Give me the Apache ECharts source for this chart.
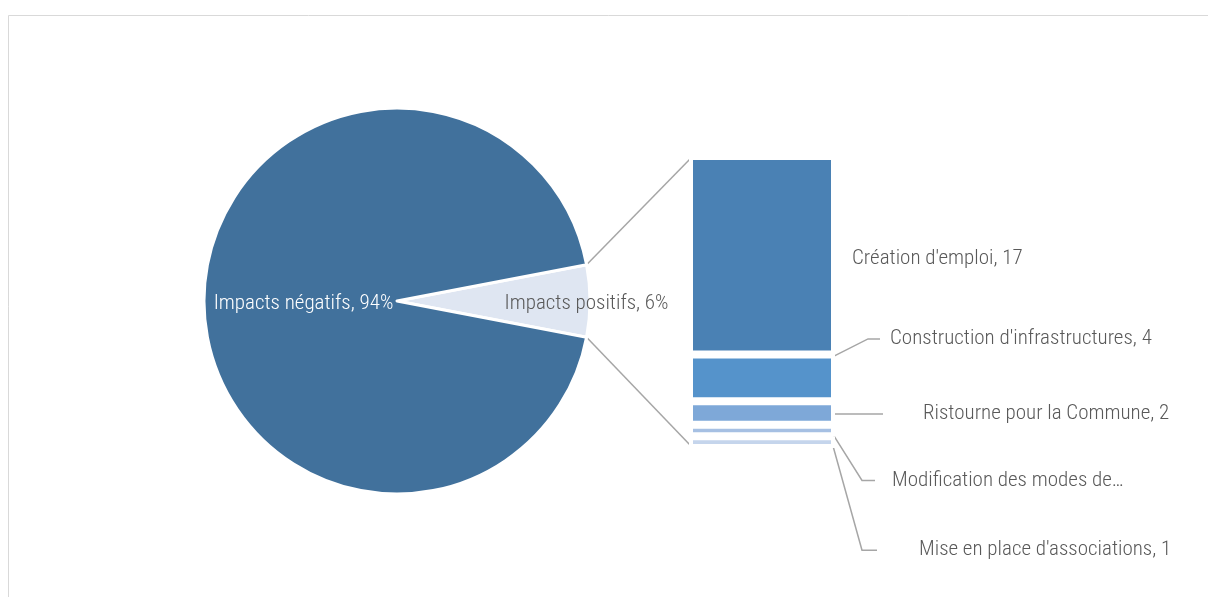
<!DOCTYPE html>
<html>
<head>
<meta charset="utf-8">
<script src="https://cdn.jsdelivr.net/npm/echarts@6/dist/echarts.min.js"></script>
<style>
	html, body { margin: 0; padding: 0; background: #fff; }
	#main { width: 1208px; height: 597px; }
</style>
</head>
<body>
<div id="main"></div>
<script>
// répartition globale des impacts (%)
var pieNames = ['Impacts positifs', 'Impacts négatifs'];
var pieValues = [6, 94];
// détail des impacts positifs, du bas vers le haut de la barre
var barNames = ["Mise en place d'associations", 'Modification des modes de vie', 'Ristourne pour la Commune', "Construction d'infrastructures", "Création d'emploi"];
var barValues = [1, 1, 2, 4, 17];
var barLabels = ["Mise en place d'associations, 1", 'Modification des modes de…', 'Ristourne pour la Commune, 2', "Construction d'infrastructures, 4", "Création d'emploi, 17"];

var FONT = '"Roboto Condensed", "Liberation Sans Narrow", sans-serif';
var FONT_SIZE = 21;
var TEXT_COLOR = '#595959';
var LINE_COLOR = '#a6a6a6';

// couleurs des segments (bas -> haut)
var barColors = ['#c5d5ec', '#a6c0e3', '#7ea8d8', '#5593cb', '#4a81b4'];
// placement des étiquettes : [dx, dy, blanc avant le texte, longueur du coude]
var labelShift = [[25, 108, 42, 15], [23, 50, 17, 13], [31, 1, 40, 0], [28, -39, 10, 12], [0, 3, 0, 0]];

const chart = echarts.init(document.getElementById('main'), null, {renderer: 'canvas'});

const total = barValues.reduce(function(a, b) { return a + b; }, 0);
const barSeries = barValues.map(function(v, i) {
	const shift = labelShift[i];
	return {
		name: barNames[i],
		type: 'bar',
		stack: 'positifs',
		barWidth: '100%',
		data: [v],
		itemStyle: {
			color: barColors[i],
			borderColor: '#fff',
			borderWidth: 4
		},
		label: {
			show: true,
			position: 'right',
			distance: 17,
			formatter: shift[2] ? '{g|}{t|' + barLabels[i] + '}' : barLabels[i],
			color: TEXT_COLOR,
			fontFamily: FONT,
			fontWeight: 300,
			fontSize: FONT_SIZE,
			rich: {
				g: { width: shift[2] },
				t: { color: TEXT_COLOR, fontFamily: FONT, fontWeight: 300, fontSize: FONT_SIZE }
			}
		},
		labelLine: {
			show: i < 4,
			length2: shift[3],
			lineStyle: { color: LINE_COLOR, width: 1.5 }
		},
		labelLayout: function(p) {
			return {
				x: p.labelRect.x + shift[0],
				y: p.labelRect.y + shift[1]
			};
		},
		emphasis: { disabled: true }
	};
});

const option = {
	animation: false,
	backgroundColor: '#fff',
	grid: { left: 689, top: 156, width: 146, height: 292 },
	xAxis: { type: 'category', data: ['Impacts positifs'], show: false },
	yAxis: { type: 'value', min: 0, max: total, show: false },
	series: [{
		type: 'pie',
		center: [397, 301],
		radius: 193,
		clockwise: true,
		startAngle: pieValues[0] / 100 * 360 / 2,
		data: pieNames.map(function(n, i) { return { name: n, value: pieValues[i] }; }),
		itemStyle: { borderColor: '#fff', borderWidth: 3 },
		color: ['#dfe6f2', '#41719c'],
		label: {
			show: true,
			position: 'inside',
			formatter: '{b}, {c}%',
			fontFamily: FONT,
			fontWeight: 300,
			fontSize: FONT_SIZE
		},
		// l'étiquette "positifs" est poussée vers le bord de la part
		labelLayout: function(p) {
			return p.dataIndex === 0 ? { dx: 45, dy: 1.5 } : { dx: 3, dy: 1.5 };
		},
		emphasis: { disabled: true },
		z: 3
	}].concat(barSeries)
};
option.series[0].data[0].label = { color: TEXT_COLOR };
option.series[0].data[1].label = { color: '#fff' };

chart.setOption(option);

// traits de liaison entre la part "positifs" et la barre de détail
const pieLayout = chart.getModel().getSeriesByIndex(0).getData().getItemLayout(0);
const gridRect = chart.getModel().getComponent('grid').coordinateSystem.getRect();
const inset = 2;
const p1 = [pieLayout.cx + pieLayout.r * Math.cos(pieLayout.startAngle), pieLayout.cy + pieLayout.r * Math.sin(pieLayout.startAngle)];
const p2 = [pieLayout.cx + pieLayout.r * Math.cos(pieLayout.endAngle), pieLayout.cy + pieLayout.r * Math.sin(pieLayout.endAngle)];
const topLeft = chart.convertToPixel({ gridIndex: 0 }, [0, total]);
const bottomLeft = chart.convertToPixel({ gridIndex: 0 }, [0, 0]);

chart.setOption({
	graphic: [{
		type: 'rect',
		shape: { x: 8.5, y: 15.5, width: 1300, height: 700 },
		style: { fill: null, stroke: '#d9d9d9', lineWidth: 1 },
		silent: true,
		z: -10
	}, {
		type: 'line',
		shape: { x1: p1[0], y1: p1[1], x2: gridRect.x + inset, y2: topLeft[1] + inset },
		style: { stroke: LINE_COLOR, lineWidth: 1.5 },
		silent: true
	}, {
		type: 'line',
		shape: { x1: p2[0], y1: p2[1], x2: gridRect.x + inset, y2: bottomLeft[1] - inset },
		style: { stroke: LINE_COLOR, lineWidth: 1.5 },
		silent: true
	}]
});
</script>
</body>
</html>
